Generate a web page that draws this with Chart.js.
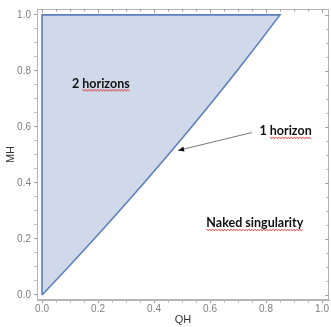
<!DOCTYPE html>
<html>
<head>
<meta charset="utf-8">
<script src="https://cdn.jsdelivr.net/npm/chart.js@4.4.1/dist/chart.umd.min.js"></script>
<style>
html,body{margin:0;padding:0;background:#fff;}
#wrap{width:331px;height:327px;position:relative;}
</style>
</head>
<body>
<div id="wrap"><canvas id="c" width="331" height="327"></canvas></div>
<script>
// Boundary curve (extremal case): MH values and the corresponding QH on the curve
const MH = [0, 0.1, 0.2, 0.3, 0.4, 0.5, 0.6, 0.7, 0.8, 0.9, 1.0];
const QH = [0, 0.094, 0.186, 0.276, 0.364, 0.45, 0.534, 0.616, 0.696, 0.774, 0.85];
const tickValues = [0,0.05,0.1,0.15,0.2,0.25,0.3,0.35,0.4,0.45,0.5,0.55,0.6,0.65,0.7,0.75,0.8,0.85,0.9,0.95,1.0];
const majorTicks = [0, 0.2, 0.4, 0.6, 0.8, 1.0];
const labels = [
  {text:'2 horizons', under:'horizons', q:0.21, m:0.755},
  {text:'1 horizon', under:'horizon', q:0.87, m:0.585},
  {text:'Naked singularity', under:'Naked singularity', q:0.76, m:0.256}
];
const arrowFrom = {q:0.75, m:0.58};
const arrowTo = {q:0.486, m:0.516};

// closed region: up the MH axis, along MH=1, down the boundary curve
const region = [{x:0,y:0},{x:0,y:1}];
for (let i = MH.length - 1; i >= 0; i--) region.push({x:QH[i], y:MH[i]});

const isMajor = v => majorTicks.some(t => Math.abs(t - v) < 1e-6);
const setTicks = s => { s.ticks = tickValues.map(v => ({value:v})); };

const framePlugin = {
  id:'frame',
  afterDraw(chart){
    const {ctx, chartArea:a, scales:{x,y}} = chart;
    ctx.save();
    ctx.strokeStyle = '#b4b4b4';
    ctx.lineWidth = 1;
    ctx.strokeRect(a.left+0.5, a.top+0.5, a.right-a.left-1, a.bottom-a.top-1);
    ctx.strokeStyle = '#a0a0a0';
    ctx.beginPath();
    tickValues.forEach(v=>{
      const L = isMajor(v)?4:2.5;
      const px = Math.round(x.getPixelForValue(v))+0.5;
      ctx.moveTo(px, a.top); ctx.lineTo(px, a.top+L);
      const py = Math.round(y.getPixelForValue(v))+0.5;
      ctx.moveTo(a.right, py); ctx.lineTo(a.right-L, py);
    });
    ctx.stroke();
    ctx.restore();
  }
};

const annotPlugin = {
  id:'annot',
  afterDatasetsDraw(chart){
    const {ctx, scales:{x,y}} = chart;
    ctx.save();
    const x1 = x.getPixelForValue(arrowFrom.q), y1 = y.getPixelForValue(arrowFrom.m);
    const x2 = x.getPixelForValue(arrowTo.q), y2 = y.getPixelForValue(arrowTo.m);
    ctx.strokeStyle = '#555'; ctx.fillStyle = '#111'; ctx.lineWidth = 0.8;
    ctx.beginPath(); ctx.moveTo(x1,y1); ctx.lineTo(x2,y2); ctx.stroke();
    const ang = Math.atan2(y2-y1, x2-x1), hl = 6, hw = 2.5;
    ctx.beginPath();
    ctx.moveTo(x2,y2);
    ctx.lineTo(x2 - hl*Math.cos(ang) + hw*Math.sin(ang), y2 - hl*Math.sin(ang) - hw*Math.cos(ang));
    ctx.lineTo(x2 - hl*Math.cos(ang) - hw*Math.sin(ang), y2 - hl*Math.sin(ang) + hw*Math.cos(ang));
    ctx.closePath(); ctx.fill();
    ctx.font = 'bold 12.5px Lato';
    ctx.textBaseline = 'middle';
    ctx.textAlign = 'left';
    labels.forEach(l=>{
      const cx = x.getPixelForValue(l.q), cy = y.getPixelForValue(l.m);
      const w = ctx.measureText(l.text).width;
      const sx = cx - w/2;
      ctx.fillStyle = '#111';
      ctx.fillText(l.text, sx, cy);
      const idx = l.text.indexOf(l.under);
      const ux = sx + ctx.measureText(l.text.slice(0, idx)).width;
      const uw = ctx.measureText(l.under).width;
      ctx.strokeStyle = '#e03030'; ctx.lineWidth = 0.8;
      ctx.beginPath();
      const uy = cy + 7;
      for (let t = 0; t <= uw; t += 1) {
        const yy = uy + ((Math.floor(t/1.5)%2) ? 0.8 : -0.8);
        if (t===0) ctx.moveTo(ux+t, yy); else ctx.lineTo(ux+t, yy);
      }
      ctx.stroke();
    });
    ctx.restore();
  }
};

new Chart(document.getElementById('c'), {
  type:'scatter',
  data:{datasets:[{
    data: region,
    showLine:true,
    fill:'shape',
    borderColor:'#5d7fbb',
    backgroundColor:'#cfd9ea',
    borderWidth:1.6,
    pointRadius:0,
    tension:0
  }]},
  options:{
    responsive:false,
    animation:false,
    events:[],
    layout:{padding:{top:8,right:2,left:0,bottom:0}},
    plugins:{legend:{display:false},tooltip:{enabled:false}},
    scales:{
      x:{
        type:'linear', min:-0.018, max:1.025,
        afterBuildTicks:setTicks,
        afterFit:s=>{s.height=27;},
        border:{display:true,color:'#b4b4b4'},
        grid:{drawOnChartArea:false, tickLength:3, tickColor:c=>isMajor(c.tick.value)?'#a0a0a0':'#c0c0c0'},
        ticks:{autoSkip:false, maxRotation:0, padding:0, color:'#808080', font:{family:'Liberation Sans', size:10},
          callback:v=>isMajor(v)?v.toFixed(1):''},
        title:{display:true, text:'QH', color:'#333', font:{family:'Liberation Sans', size:11}, padding:{top:0,bottom:0}}
      },
      y:{
        type:'linear', min:-0.018, max:1.021,
        afterBuildTicks:setTicks,
        afterFit:s=>{s.width=37;},
        border:{display:true,color:'#b4b4b4'},
        grid:{drawOnChartArea:false, tickLength:3, tickColor:c=>isMajor(c.tick.value)?'#a0a0a0':'#c0c0c0'},
        ticks:{autoSkip:false, padding:3, color:'#808080', font:{family:'Liberation Sans', size:10},
          callback:v=>isMajor(v)?v.toFixed(1):''},
        title:{display:true, text:'MH', color:'#333', font:{family:'Liberation Sans', size:11}, padding:{top:4,bottom:0}}
      }
    }
  },
  plugins:[framePlugin, annotPlugin]
});
</script>
</body>
</html>
